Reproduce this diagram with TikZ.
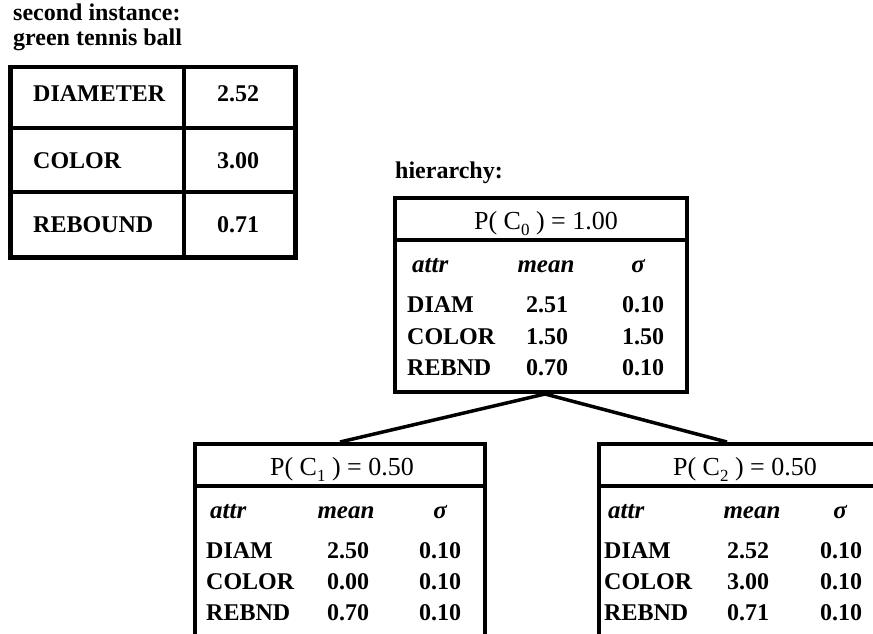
\documentclass[tikz,border=0pt]{standalone}
\usepackage{fontspec}
\setmainfont{Liberation Serif}
\usetikzlibrary{calc}
\tikzstyle{cbox}=[draw, line width=4pt, inner sep=0, anchor=north west]
\tikzstyle{sep}=[line width=3.5pt]
\tikzstyle{link}=[line width=3.5pt]
\tikzstyle{lab}=[inner sep=0, font=\fontsize{24}{24}\selectfont\bfseries]
\tikzstyle{hd}=[inner sep=0, font=\fontsize{25}{25}\selectfont\bfseries\itshape]
\tikzstyle{ttl}=[inner sep=0, anchor=base, font=\fontsize{26}{26}\selectfont]
\newcommand{\sub}[1]{\raisebox{-6pt}{\fontsize{17}{17}\selectfont #1}}

\begin{document}
\begin{tikzpicture}[x=1pt,y=-1pt]
\useasboundingbox (0,0) rectangle (873,634);
\clip (0,0) rectangle (873,634);
% the new instance
\node at (13,21)[lab, anchor=base west](t1){second instance:};
\node at (13,46)[lab, anchor=base west](t2){green tennis ball};
\node at (8,65)[cbox, line width=4.5pt, minimum width=285pt, minimum height=190pt](inst){};
\draw[sep] ($(inst.north west)+(176,0)$)--($(inst.south west)+(176,0)$);
\draw[sep] ($(inst.north west)+(0,63)$)--($(inst.north east)+(0,63)$);
\draw[sep] ($(inst.north west)+(0,127)$)--($(inst.north east)+(0,127)$);
\node at (33,102)[lab, anchor=base west](i1){DIAMETER};
\node at (33,168)[lab, anchor=base west](i2){COLOR};
\node at (33,232)[lab, anchor=base west](i3){REBOUND};
\node at (238,102)[lab, anchor=base](v1){2.52};
\node at (238,168)[lab, anchor=base](v2){3.00};
\node at (238,232)[lab, anchor=base](v3){0.71};
% root of the hierarchy
\node at (395,178)[lab, anchor=base west](h){hierarchy:};
\node at (393,196)[cbox, minimum width=292pt, minimum height=194pt](c0){};
\draw[sep] ($(c0.north west)+(0,44)$)--($(c0.north east)+(0,44)$);
\node at (546,229)[ttl](p0){P(\ C\sub{0}\ ) = 1.00};
\node at (412,272)[hd, anchor=base west](a0){attr};
\node at (546,272)[hd, anchor=base](m0){mean};
\node at (638,272)[hd, anchor=base](s0){σ};
\node at (407,312)[lab, anchor=base west](n01){DIAM};
\node at (547,312)[lab, anchor=base](m01){2.51};
\node at (643,312)[lab, anchor=base](s01){0.10};
\node at (407,344)[lab, anchor=base west](n02){COLOR};
\node at (547,344)[lab, anchor=base](m02){1.50};
\node at (643,344)[lab, anchor=base](s02){1.50};
\node at (407,375)[lab, anchor=base west](n03){REBND};
\node at (547,375)[lab, anchor=base](m03){0.70};
\node at (643,375)[lab, anchor=base](s03){0.10};
% first child
\node at (193,442)[cbox, minimum width=290pt, minimum height=192pt](c1){};
\draw[sep] ($(c1.north west)+(0,44)$)--($(c1.north east)+(0,44)$);
\node at (342,475)[ttl](p1){P(\ C\sub{1}\ ) = 0.50};
\node at (210,518)[hd, anchor=base west](a1){attr};
\node at (346,518)[hd, anchor=base](m1){mean};
\node at (440,518)[hd, anchor=base](s1){σ};
\node at (206,558)[lab, anchor=base west](n11){DIAM};
\node at (348,558)[lab, anchor=base](m11){2.50};
\node at (440,558)[lab, anchor=base](s11){0.10};
\node at (206,589)[lab, anchor=base west](n12){COLOR};
\node at (348,589)[lab, anchor=base](m12){0.00};
\node at (440,589)[lab, anchor=base](s12){0.10};
\node at (206,620)[lab, anchor=base west](n13){REBND};
\node at (348,620)[lab, anchor=base](m13){0.70};
\node at (440,620)[lab, anchor=base](s13){0.10};
% second child
\node at (597,442)[cbox, minimum width=296pt, minimum height=192pt](c2){};
\draw[sep] ($(c2.north west)+(0,44)$)--($(c2.north east)+(0,44)$);
\node at (745,475)[ttl](p2){P(\ C\sub{2}\ ) = 0.50};
\node at (608,518)[hd, anchor=base west](a2){attr};
\node at (752,518)[hd, anchor=base](m2){mean};
\node at (840,518)[hd, anchor=base](s2){σ};
\node at (604,558)[lab, anchor=base west](n21){DIAM};
\node at (748,558)[lab, anchor=base](m21){2.52};
\node at (841,558)[lab, anchor=base](s21){0.10};
\node at (604,589)[lab, anchor=base west](n22){COLOR};
\node at (748,589)[lab, anchor=base](m22){3.00};
\node at (841,589)[lab, anchor=base](s22){0.10};
\node at (604,620)[lab, anchor=base west](n23){REBND};
\node at (748,620)[lab, anchor=base](m23){0.71};
\node at (841,620)[lab, anchor=base](s23){0.10};
% links
\draw[link] ([xshift=4pt]c0.south)--(c1.north);
\draw[link] ([xshift=4pt]c0.south)--([xshift=-20pt]c2.north);
\end{tikzpicture}
\end{document}
